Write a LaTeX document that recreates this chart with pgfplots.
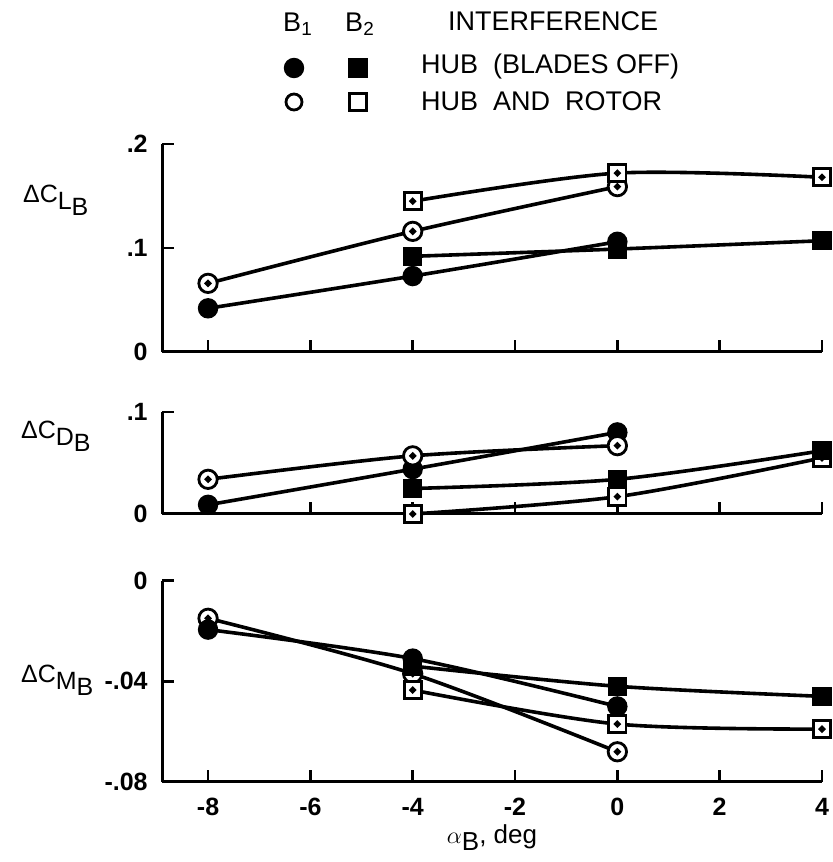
\documentclass[border=0pt]{standalone}
\usepackage{pgfplots}
\pgfplotsset{compat=1.18}
\usepackage{fontspec}
\setmainfont{Liberation Sans}
\newcommand{\dl}[1]{\fontsize{12.5}{12.5}\selectfont ΔC\raisebox{-0.5ex}{#1\raisebox{-0.45ex}{B}}}
\begin{document}
\begin{tikzpicture}
\path[use as bounding box] (0,0) rectangle (416pt,431pt);
\pgfplotsset{
 panel/.style={
  scale only axis, width=330pt, anchor=south west,
  xmin=-8.9, xmax=4,
  axis x line*=bottom, axis y line*=left,
  axis line style={line width=1.5pt, -},
  tick style={line width=1.4pt, black},
  tick align=inside,
  major tick length=6pt,
  xtick={-8,-6,...,4},
  xticklabels={},
  scaled y ticks=false, scaled x ticks=false,
  clip=false,
  every axis plot/.append style={line width=1.8pt, black},
  yticklabel style={font=\bfseries\fontsize{12.5}{12.5}\selectfont, inner sep=0pt, xshift=-7pt},
  xticklabel style={font=\bfseries\fontsize{12.5}{12.5}\selectfont, inner sep=0pt, yshift=-8pt},
 },
 fc/.style={mark=*, mark size=4.6pt, mark options={fill=black, line width=1pt, solid}},
 oc/.style={mark=*, mark size=4.6pt, mark options={fill=white, line width=1.4pt, solid}},
 fs/.style={mark=square*, mark size=4.3pt, mark options={fill=black, line width=1pt, solid}},
 os/.style={mark=square*, mark size=4.3pt, mark options={fill=white, line width=1.4pt, solid}},
 dot/.style={only marks, mark=*, mark size=0.7pt, mark options={fill=black}},
}
% ---------- top: Delta C_L ----------
\begin{axis}[panel, at={(81pt,255pt)}, height=104pt, ymin=0, ymax=0.2,
  ytick={0,0.1,0.2}, yticklabels={0,.1,.2}]
\addplot[smooth, fc] coordinates {(-8,0.042) (-4,0.073) (0,0.106)};
\addplot[smooth, fs] coordinates {(-4,0.092) (0,0.099) (4,0.107)};
\addplot[smooth, oc] coordinates {(-8,0.066) (-4,0.116) (0,0.159)};
\addplot[dot] coordinates {(-8,0.066) (-4,0.116) (0,0.159)};
\addplot[smooth, os] coordinates {(-4,0.145) (0,0.172) (4,0.168)};
\addplot[dot] coordinates {(-4,0.145) (0,0.172) (4,0.168)};
\end{axis}
% ---------- middle: Delta C_D ----------
\begin{axis}[panel, at={(81pt,174pt)}, height=51pt, ymin=0, ymax=0.1,
  ytick={0,0.1}, yticklabels={0,.1}]
\addplot[smooth, os] coordinates {(-4,0.000) (0,0.017) (4,0.055)};
\addplot[dot] coordinates {(-4,0.000) (0,0.017) (4,0.055)};
\addplot[smooth, fs] coordinates {(-4,0.025) (0,0.034) (4,0.062)};
\addplot[smooth, fc] coordinates {(-8,0.009) (-4,0.044) (0,0.080)};
\addplot[smooth, oc] coordinates {(-8,0.034) (-4,0.057) (0,0.067)};
\addplot[dot] coordinates {(-8,0.034) (-4,0.057) (0,0.067)};
\end{axis}
% ---------- bottom: Delta C_M ----------
\begin{axis}[panel, at={(81pt,40pt)}, height=100.75pt, ymin=-0.08, ymax=0,
  ytick={-0.08,-0.04,0}, yticklabels={-.08,-.04,0},
  xticklabels={-8,-6,-4,-2,0,2,4}]
\addplot[smooth, oc] coordinates {(-8,-0.015) (-4,-0.037) (0,-0.068)};
\addplot[dot] coordinates {(-8,-0.015) (-4,-0.037) (0,-0.068)};
\addplot[smooth, os] coordinates {(-4,-0.0435) (0,-0.057) (4,-0.059)};
\addplot[dot] coordinates {(-4,-0.0435) (0,-0.057) (4,-0.059)};
\addplot[smooth, fc] coordinates {(-8,-0.0195) (-4,-0.031) (0,-0.050)};
\addplot[smooth, fs] coordinates {(-4,-0.034) (0,-0.042) (4,-0.046)};
\end{axis}
% ---------- overlay: legend and labels ----------
\begin{axis}[at={(0,0)}, anchor=south west, scale only axis, width=416pt, height=431pt,
  xmin=0, xmax=832, ymin=0, ymax=862, y dir=reverse, hide axis, clip=false]
\addplot[only marks, fc] coordinates {(294,68)};
\addplot[only marks, fs] coordinates {(358,68)};
\addplot[only marks, oc, mark size=4pt] coordinates {(294,102)};
\addplot[only marks, os] coordinates {(358,102)};
\node[font=\fontsize{13.5}{13.5}\selectfont] at (axis cs:298,24) {B\textsubscript{1}};
\node[font=\fontsize{13.5}{13.5}\selectfont] at (axis cs:360,24) {B\textsubscript{2}};
\node[anchor=west, font=\fontsize{13.5}{13.5}\selectfont] at (axis cs:441,21) {INTERFERENCE};
\node[anchor=west, font=\fontsize{13.5}{13.5}\selectfont] at (axis cs:414,67) {HUB\ \ (BLADES OFF)};
\node[anchor=west, font=\fontsize{13.5}{13.5}\selectfont] at (axis cs:414,101) {HUB\ \ AND\ \ ROTOR};
\node[anchor=west] at (axis cs:16,200) {\dl{L}};
\node[anchor=west] at (axis cs:14,436) {\dl{D}};
\node[anchor=west] at (axis cs:14,680) {\dl{M}};
\node[font=\fontsize{13}{13}\selectfont] at (axis cs:492,838) {$\alpha$\raisebox{-0.5ex}{B}, deg};
\end{axis}
\end{tikzpicture}
\end{document}
